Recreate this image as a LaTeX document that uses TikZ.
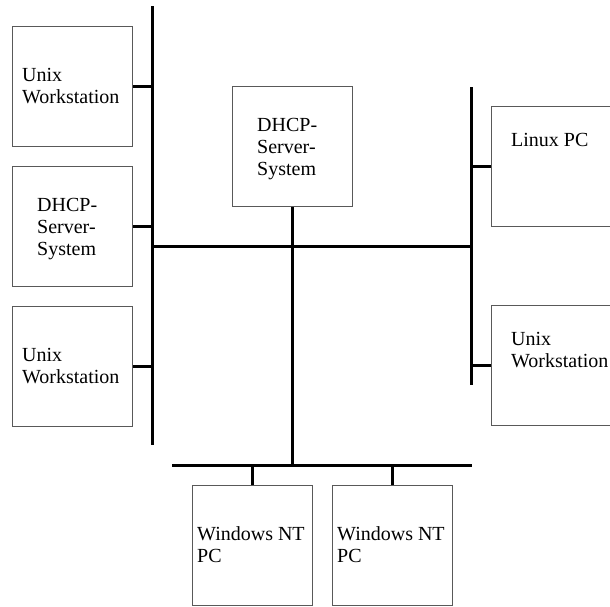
\documentclass[tikz,border=0pt]{standalone}
\usepackage{fontspec}
\setmainfont{Liberation Serif}
\begin{document}
\begin{tikzpicture}[x=1pt,y=-1pt,
  box/.style={draw=black!65,line width=1.3pt,minimum width=120pt,minimum height=120pt,inner sep=0pt,anchor=north west},
  lbl/.style={font=\fontsize{20}{22}\selectfont,align=left,anchor=base west,inner sep=0pt},
  bus/.style={line width=3pt},
  stub/.style={line width=2.5pt}]
\useasboundingbox (0,0) rectangle (610,606);
\clip (0,0) rectangle (610,606);
% boxes
\node[box] (l1) at (12,26) {};
\node[box] (l2) at (12,166) {};
\node[box] (l3) at (12,306) {};
\node[box] (c) at (232,86) {};
\node[box] (r1) at (491,106) {};
\node[box] (r2) at (491,305) {};
\node[box] (b1) at (192,485) {};
\node[box] (b2) at (332,485) {};
% labels (anchor = baseline of last line)
\node[lbl] (t1) at (22,103) {Unix\\Workstation};
\node[lbl] (t2) at (37,255) {DHCP-\\Server-\\System};
\node[lbl] (t3) at (22,383) {Unix\\Workstation};
\node[lbl] (tc) at (257,175) {DHCP-\\Server-\\System};
\node[lbl] (tr1) at (511,146) {Linux PC};
\node[lbl] (tr2) at (511,367.5) {Unix\\Workstation};
\node[lbl] (tb1) at (197,562) {Windows NT\\PC};
\node[lbl] (tb2) at (337,562) {Windows NT\\PC};
% bus coordinates
\coordinate (LT) at (152,6);
\coordinate (LB) at (152,445);
\coordinate (RT) at (471,87);
\coordinate (RB) at (471,385);
\coordinate (BL) at (172,465);
\coordinate (BR) at (472,465);
\coordinate (HL) at (152,246);
\coordinate (HR) at (471,246);
\coordinate (CB) at (c.south |- BL);
% buses
\draw[bus] (LT) -- (LB);
\draw[bus] (RT) -- (RB);
\draw[bus] (BL) -- (BR);
\draw[bus] (HL) -- (HR);
\draw[bus] (c.south) -- (CB);
% stubs
\draw[stub] (l1.east) -- (l1.east -| LT);
\draw[stub] (l2.east) -- (l2.east -| LT);
\draw[stub] (l3.east) -- (l3.east -| LT);
\draw[stub] (r1.west) -- (r1.west -| RT);
\draw[stub] (r2.west) -- (r2.west -| RT);
\draw[stub] (b1.north) -- (b1.north |- BL);
\draw[stub] (b2.north) -- (b2.north |- BL);
\end{tikzpicture}
\end{document}
